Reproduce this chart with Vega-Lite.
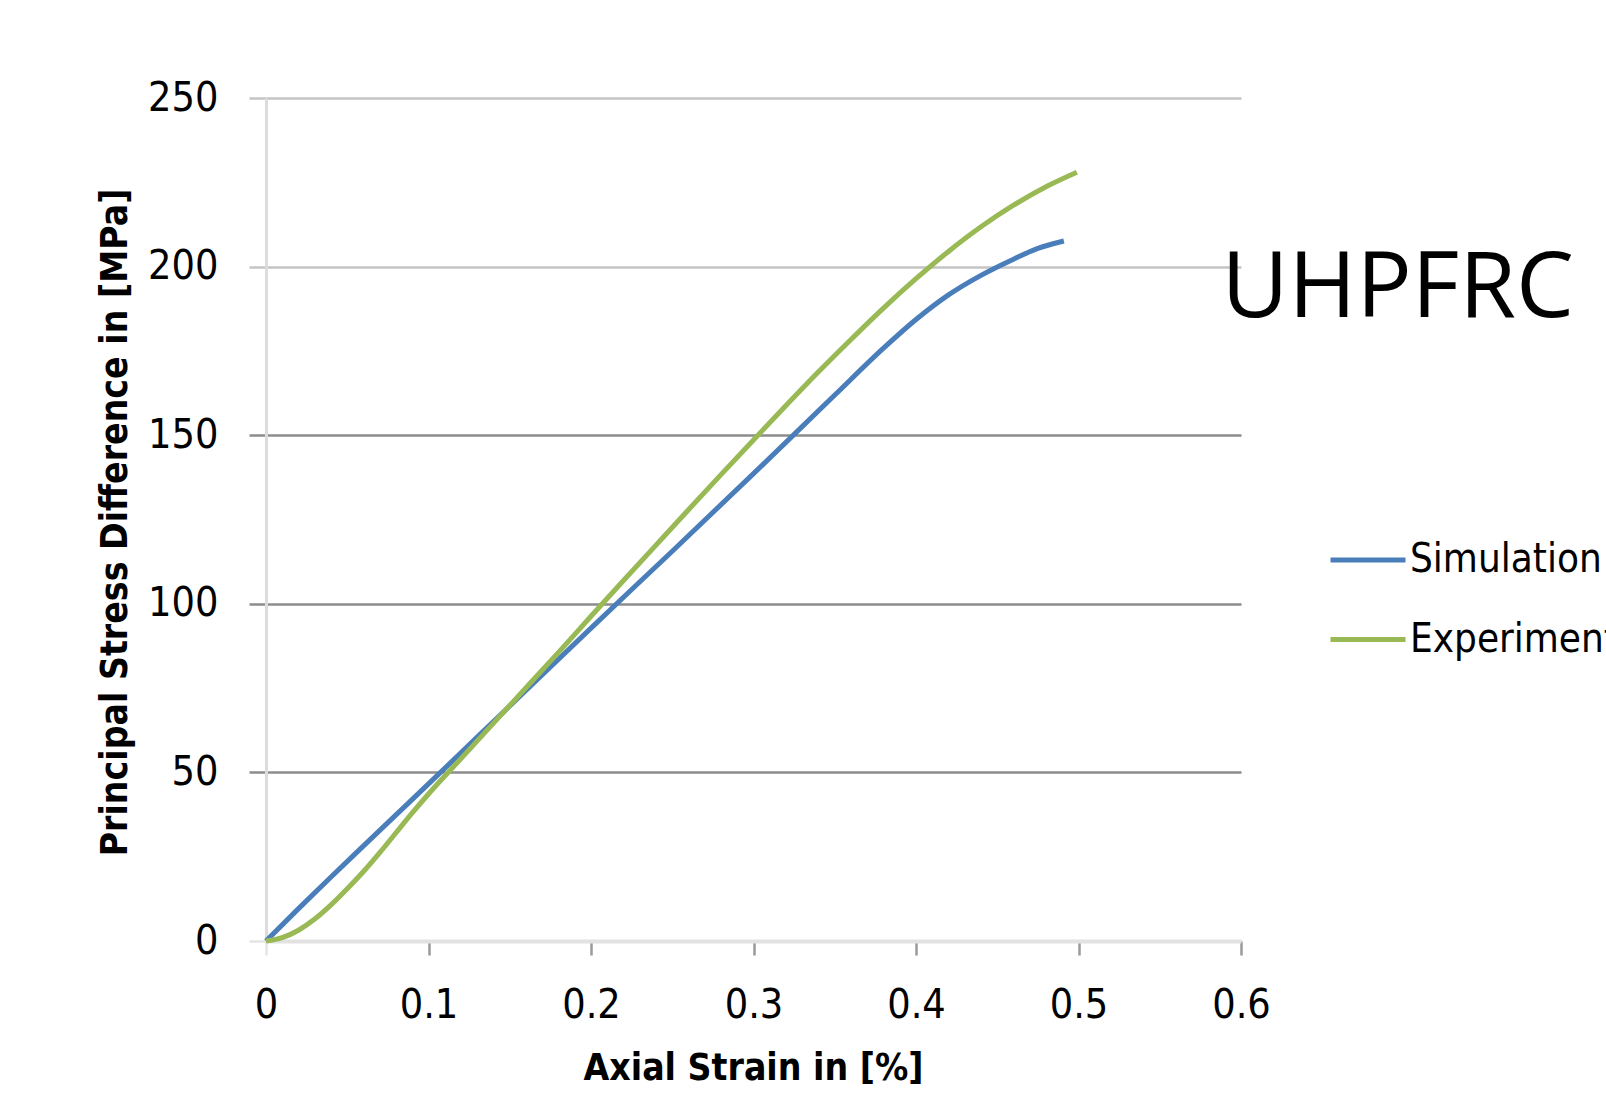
{
  "$schema": "https://vega.github.io/schema/vega-lite/v6.json",
  "autosize": {"type": "none"},
  "padding": {"left": 266, "top": 98, "right": 365, "bottom": 165},
  "width": 975,
  "height": 843,
  "background": "white",
  "config": {
    "view": {"stroke": null},
    "font": "DejaVu Sans Condensed"
  },
  "layer": [
    {
      "data": {
        "values": [
          {"series": "Simulation", "strain": 0, "stress": 0},
          {"series": "Simulation", "strain": 0.02, "stress": 9.6},
          {"series": "Simulation", "strain": 0.04, "stress": 19.0},
          {"series": "Simulation", "strain": 0.06, "stress": 28.2},
          {"series": "Simulation", "strain": 0.08, "stress": 37.4},
          {"series": "Simulation", "strain": 0.1, "stress": 46.6},
          {"series": "Simulation", "strain": 0.15, "stress": 69.7},
          {"series": "Simulation", "strain": 0.2, "stress": 92.8},
          {"series": "Simulation", "strain": 0.25, "stress": 115.6},
          {"series": "Simulation", "strain": 0.3, "stress": 138.6},
          {"series": "Simulation", "strain": 0.35, "stress": 161.9},
          {"series": "Simulation", "strain": 0.38, "stress": 175.8},
          {"series": "Simulation", "strain": 0.4, "stress": 184.3},
          {"series": "Simulation", "strain": 0.42, "stress": 191.6},
          {"series": "Simulation", "strain": 0.44, "stress": 197.4},
          {"series": "Simulation", "strain": 0.46, "stress": 202.2},
          {"series": "Simulation", "strain": 0.475, "stress": 205.4},
          {"series": "Simulation", "strain": 0.491, "stress": 207.6},
          {"series": "Experiment", "strain": 0, "stress": 0},
          {"series": "Experiment", "strain": 0.01, "stress": 1.0},
          {"series": "Experiment", "strain": 0.02, "stress": 3.2},
          {"series": "Experiment", "strain": 0.03, "stress": 6.5},
          {"series": "Experiment", "strain": 0.04, "stress": 10.7},
          {"series": "Experiment", "strain": 0.05, "stress": 15.5},
          {"series": "Experiment", "strain": 0.06, "stress": 20.6},
          {"series": "Experiment", "strain": 0.07, "stress": 26.2},
          {"series": "Experiment", "strain": 0.08, "stress": 32.1},
          {"series": "Experiment", "strain": 0.09, "stress": 38.0},
          {"series": "Experiment", "strain": 0.1, "stress": 43.6},
          {"series": "Experiment", "strain": 0.12, "stress": 54.1},
          {"series": "Experiment", "strain": 0.14, "stress": 64.6},
          {"series": "Experiment", "strain": 0.16, "stress": 75.1},
          {"series": "Experiment", "strain": 0.18, "stress": 85.6},
          {"series": "Experiment", "strain": 0.2, "stress": 96.3},
          {"series": "Experiment", "strain": 0.22, "stress": 106.9},
          {"series": "Experiment", "strain": 0.24, "stress": 117.4},
          {"series": "Experiment", "strain": 0.26, "stress": 127.9},
          {"series": "Experiment", "strain": 0.28, "stress": 138.3},
          {"series": "Experiment", "strain": 0.3, "stress": 148.6},
          {"series": "Experiment", "strain": 0.32, "stress": 158.8},
          {"series": "Experiment", "strain": 0.34, "stress": 168.8},
          {"series": "Experiment", "strain": 0.36, "stress": 178.4},
          {"series": "Experiment", "strain": 0.38, "stress": 187.7},
          {"series": "Experiment", "strain": 0.4, "stress": 196.4},
          {"series": "Experiment", "strain": 0.42, "stress": 204.5},
          {"series": "Experiment", "strain": 0.44, "stress": 211.8},
          {"series": "Experiment", "strain": 0.46, "stress": 218.2},
          {"series": "Experiment", "strain": 0.48, "stress": 223.7},
          {"series": "Experiment", "strain": 0.499, "stress": 228.0}
        ]
      },
      "mark": {"type": "line", "strokeWidth": 5, "interpolate": "monotone", "clip": false},
      "encoding": {
        "x": {
          "field": "strain",
          "type": "quantitative",
          "scale": {"domain": [0, 0.6], "nice": false, "zero": false},
          "axis": {
            "values": [0, 0.1, 0.2, 0.3, 0.4, 0.5, 0.6],
            "format": "~g",
            "title": "Axial Strain in [%]",
            "titleFont": "DejaVu Sans Condensed",
            "titleFontWeight": "bold",
            "titleFontSize": 37,
            "titleColor": "#000000",
            "titleX": 487,
            "titleY": 127,
            "titleBaseline": "middle",
            "titleAlign": "center",
            "labelFont": "DejaVu Sans Condensed",
            "labelFontSize": 41,
            "labelColor": "#000000",
            "labelPadding": 30,
            "labelFlush": false,
            "labelOverlap": false,
            "tickSize": 14,
            "tickWidth": 2.5,
            "tickColor": {"condition": {"test": "datum.value === 0", "value": "#e4e4e4"}, "value": "#9a9a9a"},
            "domain": true,
            "domainColor": "#e2e2e2",
            "domainWidth": 4,
            "grid": false
          }
        },
        "y": {
          "field": "stress",
          "type": "quantitative",
          "scale": {"domain": [0, 250], "nice": false},
          "axis": {
            "values": [0, 50, 100, 150, 200, 250],
            "title": "Principal Stress Difference in [MPa]",
            "titleFont": "DejaVu Sans Condensed",
            "titleFontWeight": "bold",
            "titleFontSize": 37,
            "titleColor": "#000000",
            "titleAngle": -90,
            "titleX": -151,
            "titleY": 424,
            "titleBaseline": "middle",
            "titleAlign": "center",
            "labelFont": "DejaVu Sans Condensed",
            "labelFontSize": 41,
            "labelColor": "#000000",
            "labelPadding": 31,
            "labelFlush": false,
            "labelOverlap": false,
            "tickSize": 17,
            "tickWidth": 2.5,
            "tickColor": {"condition": [{"test": "datum.value === 0", "value": "#e4e4e4"}, {"test": "datum.value >= 200", "value": "#c4c4c4"}], "value": "#8c8c8c"},
            "domain": true,
            "domainColor": "#dcdcdc",
            "domainWidth": 3,
            "grid": true,
            "gridWidth": 2.5,
            "gridColor": {"condition": [{"test": "datum.value === 0", "value": "#e4e4e4"}, {"test": "datum.value >= 200", "value": "#c4c4c4"}], "value": "#8c8c8c"}
          }
        },
        "color": {
          "field": "series",
          "type": "nominal",
          "scale": {"domain": ["Simulation", "Experiment"], "range": ["#4a7ebb", "#98b954"]},
          "legend": {
            "title": null,
            "orient": "none",
            "legendX": 1062,
            "legendY": 422,
            "symbolType": "stroke",
            "symbolSize": 5625,
            "symbolStrokeWidth": 5,
            "labelFont": "DejaVu Sans Condensed",
            "labelFontSize": 40,
            "labelColor": "#000000",
            "labelOffset": 2,
            "labelLimit": 0,
            "rowPadding": 19.5
          }
        }
      }
    },
    {
      "data": {"values": [{"label": "UHPFRC"}]},
      "mark": {"type": "text", "align": "left", "baseline": "alphabetic", "font": "Open Sans", "fontSize": 92, "color": "#000000", "clip": false},
      "encoding": {
        "x": {"datum": 0.588},
        "y": {"datum": 185},
        "text": {"field": "label"}
      }
    }
  ]
}
